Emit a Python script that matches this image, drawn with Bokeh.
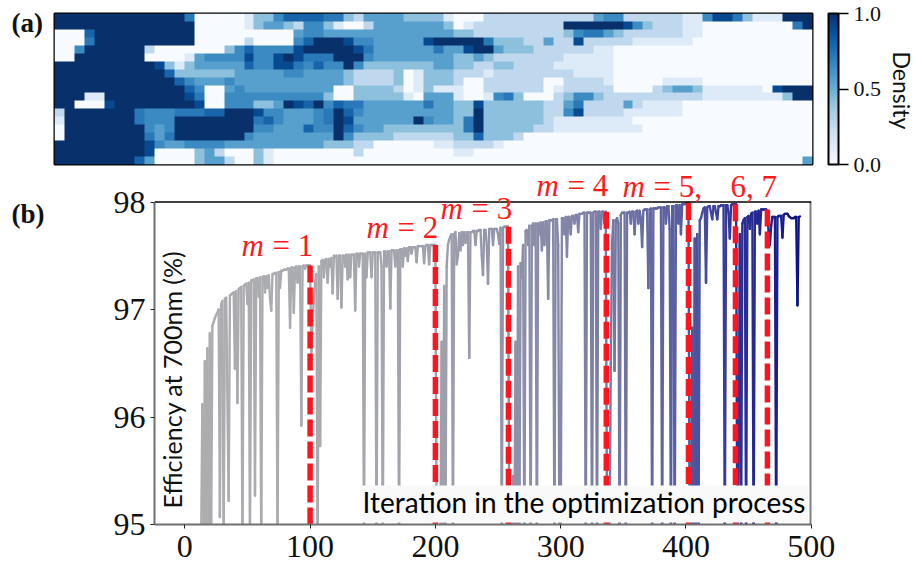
import numpy as np
from bokeh.plotting import figure
from bokeh.models import (ColorBar, LinearColorMapper, FixedTicker, PrintfTickFormatter, Label, Span,
                          BoxAnnotation, ColumnDataSource, Range1d)
from bokeh.palettes import Blues256
from bokeh.embed import file_html
from bokeh.resources import INLINE

# density map, one digit per cell (a level of density_levels), top row first
density_rows = [
 "9999999999999" "6" "00000" "1" "33" "5" "777766" "3" "2" "44443333" "1" "000" "22222222222" "455" "22222211" "58863111" "999",
 "99999999999999" "00000" "1" "344" "3" "2" "55" "3" "1" "00" "2" "44444443" "01222222222" "99999985" "322211" "00000000" "069",
 "000" "7" "9999999999" "00000" "0" "0000" "4" "5544444" "4444" "4444" "33222222222" "3566432" "2222211" "00000000000",
 "000" "6" "9999999999" "00000" "2" "0000" "5" "7" "999" "8" "55" "44444" "899" "999" "6" "33322" "4" "22" "8" "22222111" "1110" "00000000000",
 "00" "5" "999999" "2" "0000" "000" "3" "5" "7" "5555" "8" "99999" "8" "6" "44444464" "4" "899" "4" "33322" "222211" "00000000000000000000",
 "00" "9999999" "0" "000" "1" "4" "5555" "8" "55" "89" "8" "666" "999" "5" "44444444" "3343222222" "211111" "00000000000000000000",
 "9999999999" "8" "3" "1" "3" "44444" "7" "55" "88" "65" "755" "9" "5" "3333" "33344" "3322332222" "111111" "00000000000000000000",
 "99999999999" "7" "33" "3333" "44444" "554444" "3" "22223" "0" "1" "333" "2221222222" "22111" "1" "00000000000000000000",
 "999999999999" "7" "5" "4" "44" "544444" "44444" "4" "3" "22223" "0" "1" "333" "2" "00" "222222" "00" "2222" "1" "00000" "1111" "00000000000",
 "9999999999999" "7" "5" "00" "4" "544444444" "4" "00" "33332" "0" "1" "3" "11" "1" "00" "222222" "0" "1" "2222" "2" "0000" "2" "3443" "1111110" "8" "999",
 "999" "11" "99999999" "8" "6" "00" "5" "555555555" "3" "00" "3" "3333" "1" "0" "444" "1001" "563" "000" "23553" "2222222222" "1111111" "1" "3" "99",
 "9" "9" "000" "8" "99999999" "8" "00" "5" "55" "33" "4" "9879" "5" "7" "66" "444444644" "33" "8" "33333322" "46" "2222" "4" "21111" "0000000000000",
 "2" "9999999" "6" "555" "66677" "999" "8" "55" "444" "5" "6" "9" "7" "5" "444444444" "33" "9" "33333322" "58" "222" "21111" "11" "0000000000000",
 "1" "9999999" "6" "555" "99999999" "6" "75" "44456" "98" "444444" "9" "544" "3" "69" "333333" "2" "11111111" "000000000000000000",
 "0" "9999999" "9" "5" "4" "5" "99999999" "5" "5444" "7" "5" "5" "97" "5" "443333333" "3" "69" "33333" "22" "11" "1111111" "00000000000000000",
 "0" "99999999" "6" "4" "6" "9999999" "5" "44444444" "9" "5" "3333222222" "33" "7" "333" "2" "00000000000000000000000000000",
 "999999999" "8" "5" "44" "5555" "4444" "4444443332" "2" "000000" "11" "2222" "1" "0000000000000000000000000000000",
 "999999999" "8" "0000" "3" "4" "2" "000" "31" "00000000" "2" "000000000" "11" "0000000000000000000000000000000000",
 "99999999" "7" "4" "0000" "3" "44" "200" "31" "000000000000000000" "00000000000000000000000000000000000" "4",
]
density_levels = [0.0, 0.13, 0.27, 0.42, 0.56, 0.65, 0.72, 0.8, 0.9, 1.0]
density_ticks = [0.0, 0.5, 1.0]

# efficiency per iteration (values under 95 are spikes leaving the axis)
stage1 = [(13,94.8),(14,96.12),(15,94.9),(16,96.52),(17,94.8),(18,96.64),(19,94.8),(20,96.78),(21,94.8),(22,96.85),(23,96.88),(24,96.92),(25,96.95),(26,96.97),(27,97.0),(28,95.07),(29,97.05),(30,97.08),(31,94.8),(32,97.1),(33,97.11),(35,95.22),(36,97.13),(37,97.14),(38,97.15),(39,97.16),(40,96.45),(41,97.17),(42,96.13),(43,97.19),(44,97.2),(45,97.21),(46,94.8),(47,97.22),(48,97.23),(49,97.24),(50,97.05),(51,97.25),(52,94.8),(53,97.27),(54,97.27),(55,97.28),(56,95.27),(57,97.29),(58,97.29),(59,97.12),(60,97.3),(61,94.8),(62,97.3),(63,97.31),(64,97.16),(65,97.31),(66,97.2),(67,97.32),(68,97.1),(69,96.99),(70,97.33),(71,97.33),(72,97.34),(73,97.34),(74,94.8),(75,97.35),(76,97.2),(77,97.36),(78,97.36),(79,97.37),(80,97.37),(81,97.37),(82,97.38),(83,97.38),(84,96.83),(85,97.39),(86,97.39),(87,96.97),(88,97.39),(89,97.4),(90,97.25),(91,97.4),(92,97.4),(93,95.92),(94,97.4),(95,97.41),(96,97.38),(97,97.41),(98,97.41),(99,97.41),(100,97.41)]
stage2 = [(101,96.6),(102,96.9),(103,97.1),(104,97.25),(105,97.33),(106,94.8),(107,97.4),(108,95.73),(109,97.45),(110,97.46),(111,97.3),(112,97.46),(113,97.47),(114,97.25),(115,97.47),(116,97.4),(117,97.48),(118,97.15),(119,97.5),(120,97.49),(121,97.5),(122,97.1),(123,97.5),(124,97.5),(125,97.02),(126,97.5),(127,97.5),(128,97.4),(129,97.51),(130,97.28),(131,97.51),(132,97.3),(133,97.51),(134,97.51),(135,97.51),(136,96.99),(137,97.52),(138,97.52),(139,97.4),(140,97.52),(141,97.52),(142,97.52),(143,94.8),(144,97.52),(145,97.3),(146,97.53),(147,97.53),(148,97.53),(149,97.3),(150,97.53),(151,97.53),(152,97.53),(153,94.8),(154,97.53),(155,97.53),(156,97.53),(157,97.4),(158,94.8),(159,97.54),(160,97.54),(161,97.4),(162,97.54),(163,97.54),(164,97.01),(165,97.55),(166,97.55),(167,97.55),(168,97.4),(169,97.55),(170,97.55),(171,94.8),(172,97.56),(173,97.56),(174,97.4),(175,97.57),(176,97.5),(177,97.57),(178,97.45),(179,97.58),(180,97.58),(181,97.52),(182,97.58),(183,97.58),(184,97.58),(185,97.44),(186,97.59),(187,97.59),(188,97.59),(189,97.59),(190,97.59),(191,97.43),(192,97.59),(193,97.6),(194,97.6),(195,97.42),(196,97.6),(197,97.6),(198,97.6),(199,97.6),(200,97.6)]
stage3 = [(201,94.8),(204,94.8),(205,96.7),(206,94.8),(207,97.22),(208,94.8),(209,97.4),(210,97.6),(211,97.65),(212,97.68),(213,97.7),(214,94.8),(215,97.7),(216,97.72),(217,97.42),(218,97.5),(219,97.71),(220,97.55),(221,97.72),(222,97.6),(223,97.72),(224,97.62),(225,97.72),(226,97.72),(227,96.55),(228,97.72),(229,97.72),(230,97.73),(231,97.73),(232,97.6),(233,97.73),(234,97.73),(235,97.74),(236,97.74),(237,97.5),(238,97.32),(239,97.74),(240,97.74),(241,97.6),(242,97.24),(243,97.75),(244,97.75),(245,97.75),(246,97.6),(247,97.75),(248,97.75),(249,97.75),(250,97.7),(251,97.61),(252,97.76),(253,94.8),(254,97.76),(255,97.77),(256,97.77),(257,97.77),(258,97.77)]
stage4 = [(259,94.8),(261,94.8),(262,95.45),(263,94.8),(264,96.7),(265,94.8),(266,97.4),(267,94.8),(268,97.43),(269,97.3),(270,97.6),(271,94.8),(272,97.73),(273,97.74),(274,97.6),(275,97.78),(276,94.8),(277,97.78),(278,97.8),(279,97.6),(280,97.8),(281,94.8),(282,97.8),(283,97.7),(284,97.81),(285,97.55),(286,97.81),(287,97.6),(288,97.82),(289,97.82),(290,97.1),(291,97.83),(292,97.83),(293,97.83),(294,97.84),(295,94.8),(296,97.84),(297,97.84),(298,97.6),(299,94.8),(300,94.8),(301,97.85),(302,97.85),(303,97.7),(304,97.86),(305,97.49),(306,97.86),(307,97.86),(308,97.7),(309,97.87),(310,97.87),(311,97.8),(312,97.88),(313,97.88),(314,97.72),(315,97.89),(316,97.89),(317,97.89),(318,97.9),(319,97.9),(320,94.8),(321,97.9),(322,97.9),(323,97.9),(324,97.9),(325,94.8),(326,97.9),(327,97.91),(328,97.91),(329,94.8),(330,97.91),(331,97.91),(332,97.75),(333,97.91),(334,97.91),(335,97.8),(336,97.91)]
stage5 = [(337,94.8),(339,94.8),(340,96.5),(341,97.6),(342,97.83),(343,96.43),(344,97.83),(345,97.85),(346,97.8),(347,94.8),(348,97.88),(349,97.9),(350,97.9),(351,97.9),(352,94.8),(353,97.9),(354,97.9),(355,97.91),(356,97.8),(357,97.91),(358,97.91),(359,97.7),(360,97.91),(361,97.92),(362,97.8),(363,97.92),(364,97.85),(365,97.58),(366,97.92),(367,97.93),(368,97.93),(369,97.93),(370,97.2),(371,97.93),(372,97.94),(373,94.8),(374,97.94),(375,97.94),(376,97.94),(377,97.94),(378,97.95),(379,97.95),(380,97.95),(381,94.8),(382,97.95),(383,97.95),(384,97.8),(385,97.96),(386,97.96),(387,97.75),(388,94.8),(389,97.96),(390,97.96),(391,94.8),(392,97.97),(393,97.97),(394,97.8),(395,97.97),(396,97.7),(397,97.98),(398,97.98),(399,97.98),(400,97.99),(401,97.99),(402,97.99)]
stage6 = [(403,94.8),(404,94.8),(405,96.83),(406,94.8),(407,97.66),(408,94.8),(409,97.7),(410,94.8),(411,97.83),(412,97.85),(413,97.9),(414,97.94),(415,97.95),(416,97.25),(417,97.95),(418,97.96),(419,97.96),(420,97.9),(421,97.84),(422,97.96),(423,97.96),(424,97.9),(425,97.84),(426,97.96),(427,97.96),(428,97.97),(429,97.97),(430,97.97),(431,94.8),(432,97.97),(433,97.97),(434,97.9),(435,97.66),(436,97.97),(437,97.98),(438,97.98),(439,97.98),(440,97.98)]
stage7 = [(441,94.8),(442,95.5),(443,97.7),(444,94.8),(445,97.8),(446,97.83),(447,97.85),(448,94.8),(449,97.86),(450,97.87),(451,97.75),(452,97.89),(453,97.9),(454,94.8),(455,97.91),(456,97.91),(457,97.8),(458,97.92),(459,97.7),(460,97.93),(461,97.93),(462,97.93),(463,97.93),(464,97.93),(465,97.85)]
stage8 = [(466,97.73),(467,97.6),(468,97.78),(469,97.86),(470,97.86),(471,97.86),(472,94.8),(473,97.86),(474,97.87),(475,97.87),(476,97.87),(477,97.67),(478,97.88),(479,97.89),(480,97.89),(481,97.89),(482,97.87),(483,97.86),(484,97.85),(485,97.85),(486,97.85),(487,97.86),(488,97.86),(489,97.04),(490,97.86),(491,97.865)]

mark_x = [100, 200, 258.3, 336.4, 402, 439.5, 465]
mark_top = [97.41, 97.6, 97.77, 97.91, 97.99, 97.98, 97.93]
y_ticks = [95, 96, 97, 98]
x_ticks = [0, 100, 200, 300, 400, 500]

SERIF = "Liberation Serif"
SANS = "Lato"

# ---------- panel (a) ----------
lv = np.array(density_levels)
cells = lv[np.array([[int(c) for c in r[:76].ljust(76, r[-1])] for r in density_rows])]
mapper = LinearColorMapper(palette=list(reversed(Blues256)), low=0, high=1)
HA = 175     # height of the upper figure
Y0 = 165     # page y at which the lower figure begins (it overlaps the upper one, transparently)
a = figure(width=915, height=HA, frame_width=758, frame_height=151, output_backend="svg", toolbar_location=None,
           x_range=Range1d(0, 76), y_range=Range1d(0, 19), min_border_left=54, min_border_top=13,
           min_border_bottom=HA - 164, min_border_right=103)
a.image(image=[cells[::-1]], x=0, y=0, dw=76, dh=19, color_mapper=mapper)
a.axis.visible = False
a.grid.visible = False
a.outline_line_color = "black"
a.outline_line_width = 2
a.outline_line_alpha = 1
cb = ColorBar(color_mapper=mapper, width=10, height=151, padding=0, margin=0, location=(16, 0),
              ticker=FixedTicker(ticks=density_ticks), formatter=PrintfTickFormatter(format="%.1f"),
              major_tick_in=0, major_tick_out=10, major_tick_line_color="black", major_tick_line_width=1.5,
              minor_tick_line_color=None, bar_line_color="black", bar_line_width=2, border_line_color=None,
              background_fill_color=None, label_standoff=5,
              major_label_text_font=SERIF, major_label_text_font_size="22px", major_label_text_color="#111111")
a.add_layout(cb, "right")

def cv_label(fig, px, py, txt, side="center", **kw):
    lab = Label(x=px, y=py, x_units="canvas", y_units="canvas", text=txt, text_baseline="alphabetic", **kw)
    if side == "center":
        fig.add_layout(lab)
    else:
        fig.add_layout(lab, side)

cv_label(a, 11, 31 - 9, "(a)", side="left", text_font=SERIF, text_font_style="bold", text_font_size="27px", text_color="#111111")
cv_label(a, 901, 51, "Density", side="right", angle=-np.pi / 2, text_font=SANS, text_font_size="23px", text_color="#111111")

# ---------- panel (b) ----------
b = figure(width=915, height=564 - Y0, frame_width=657, frame_height=524 - Y0, output_backend="svg", toolbar_location=None,
           x_range=Range1d(-24.2, 500.2), y_range=Range1d(95, 98 + (201.5 - Y0) / 107.5), min_border_left=154, min_border_top=0,
           min_border_bottom=40, min_border_right=104, margin=(Y0 - HA, 0, 0, 0),
           background_fill_color=None, border_fill_color=None)
b.grid.visible = False
b.outline_line_color = None
stages = stage1 + stage2 + stage3 + stage4 + stage5 + stage6 + stage7 + stage8
xs = np.array([s[0] for s in stages], dtype=float)
ys = np.array([s[1] for s in stages], dtype=float)
anchors = [0, 100, 200, 258, 336, 402, 440, 491]
reds = [174, 170, 160, 146, 122, 84, 48, 12]
greens = [174, 171, 162, 148, 125, 90, 52, 20]
blues = [176, 176, 173, 170, 165, 160, 150, 138]
seg_col = ["#%02x%02x%02x" % (int(np.interp(x, anchors, reds)), int(np.interp(x, anchors, greens)),
                              int(np.interp(x, anchors, blues))) for x in xs[1:]]
src = ColumnDataSource(dict(xs=[[xs[i], xs[i + 1]] for i in range(len(xs) - 1)],
                            ys=[[ys[i], ys[i + 1]] for i in range(len(xs) - 1)], c=seg_col))
b.multi_line("xs", "ys", source=src, line_color="c", line_width=2.4, line_cap="round", line_join="round")
for mx, mt in zip(mark_x, mark_top):
    b.line([mx, mx], [mt, 95], line_color="#ff1420", line_width=5.5, line_dash="17 5", line_cap="butt")

b.xaxis.ticker = FixedTicker(ticks=x_ticks)
b.yaxis.ticker = FixedTicker(ticks=y_ticks)
b.yaxis.bounds = (95, 98)
for axis in (b.xaxis[0], b.yaxis[0]):
    axis.axis_line_color = "#707070"
    axis.axis_line_width = 2
    axis.major_tick_line_color = "#222222"
    axis.major_tick_line_width = 1
    axis.major_tick_in = 0
    axis.major_tick_out = 4
    axis.minor_tick_line_color = None
    axis.major_label_text_font = SERIF
    axis.major_label_text_font_size = "32px"
    axis.major_label_text_color = "#111111"
b.xaxis.major_label_standoff = 7
b.yaxis.major_label_standoff = 5
b.add_layout(Span(location=98, dimension="width", line_color="black", line_width=1.5))
b.line([500.2, 500.2], [95, 98], line_color="#808080", line_width=4)

bx = lambda px: (px - 184.3) / 1.2535
by = lambda py: 98 - (py - 201.5) / 107.5
b.add_layout(BoxAnnotation(left=bx(360), right=bx(808), top=by(485), bottom=by(522), fill_color="#f9f9f9",
                           fill_alpha=1, line_color=None))
cv_label(b, 362, 511 - 10 - Y0, "Iteration in the optimization process", text_font=SANS, text_font_size="28px",
         text_color="black")
cv_label(b, 180 - 9, 508 - Y0, "Efficiency at 700nm (%)", angle=np.pi / 2, text_font=SANS, text_font_size="25px",
         text_color="#111111")
cv_label(b, 11, 222 - 9 - Y0, "(b)", side="left", text_font=SERIF, text_font_style="bold", text_font_size="27px", text_color="#111111")
RED = "#ff1a1a"
def red(px, py, txt, italic=False):
    cv_label(b, px, py - 10 - Y0, txt, text_font=SERIF, text_font_size="31px", text_color=RED,
             text_font_style="italic" if italic else "normal")
for mpx, epx, py, rest in [(241, 272, 255, "= 1"), (366, 397, 237, "= 2"), (440, 471, 218, "= 3"),
                           (536, 567, 195, "= 4"), (622, 653, 196, "= 5,")]:
    red(mpx, py, "m", True)
    red(epx, py, rest)
red(730, 196, "6, 7")

open("out.html", "w").write(file_html([a, b], INLINE))
